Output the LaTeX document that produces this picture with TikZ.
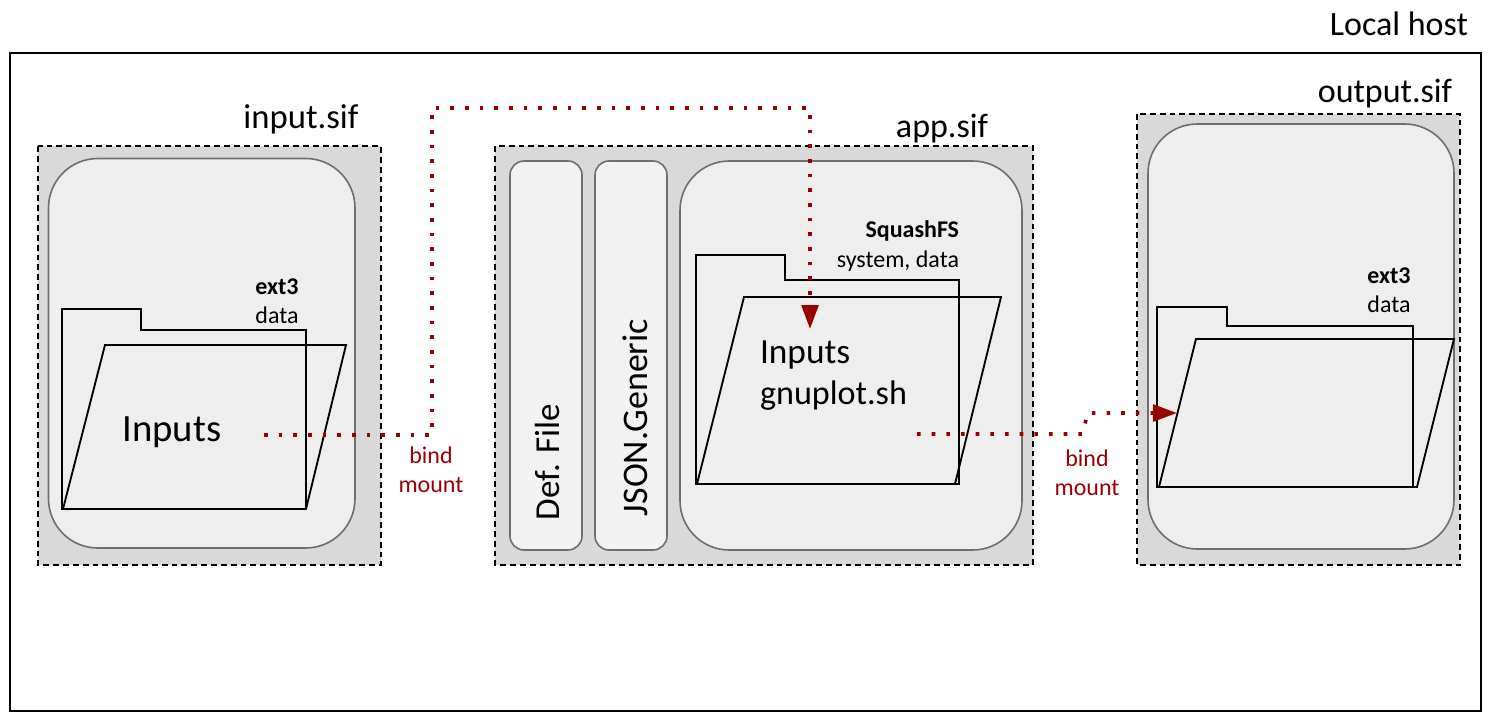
\documentclass[tikz,border=0pt]{standalone}
\usepackage{fontspec}
\setmainfont{Carlito}
\usetikzlibrary{arrows.meta}
\definecolor{bindred}{HTML}{990000}
\definecolor{sifgray}{HTML}{D9D9D9}
\definecolor{partfill}{HTML}{EEEEEE}
\definecolor{specfill}{HTML}{F2F2F2}
\definecolor{partline}{HTML}{6E6E6E}
\tikzset{
  x=0.75pt,y=-0.75pt,
  sifbox/.style={draw=black,fill=sifgray,line width=1.1pt,dash pattern=on 4.4pt off 3pt},
  partbox/.style={draw=partline,fill=partfill,line width=1.2pt},
  specbox/.style={draw=partline,fill=specfill,line width=1.2pt,rounded corners=10.5pt},
  folderline/.style={draw=black,line width=1.4pt,line join=miter},
  bindline/.style={draw=bindred,line width=2.7pt,dash pattern=on 2.7pt off 8.3pt,-{Triangle[length=18pt,width=12.5pt]}},
  txt/.style={inner sep=0pt,outer sep=0pt,text=black},
  small/.style={font=\fontsize{18}{22}\selectfont,align=center},
  bindtxt/.style={font=\fontsize{18}{22}\selectfont,align=center,text=bindred},
}
\begin{document}
\begin{tikzpicture}
\useasboundingbox (0,0) rectangle (1493,715);
\draw[black,line width=1.1pt] (10,53) rectangle (1481,711);
% containers
\draw[sifbox] (38,146) rectangle (381,565);
\draw[sifbox] (495,146) rectangle (1033,565);
\draw[sifbox] (1137,114) rectangle (1460,565);
% partitions
\draw[partbox,rounded corners=37pt] (48.5,158.5) rectangle (355,548);
\draw[specbox] (510,161) rectangle (582,550);
\draw[specbox] (595,161) rectangle (667,550);
\draw[partbox,rounded corners=37pt] (680,161) rectangle (1022,550);
\draw[partbox,rounded corners=37pt] (1148,124) rectangle (1454,549);
% folders
\draw[folderline] (62,309) -- (141,309) -- (141,330) -- (306,330) -- (306,509) -- (62,509) -- cycle;
\draw[folderline] (63,509) -- (105,345) -- (346,345) -- (306,509) -- cycle;
\draw[folderline] (696,255) -- (785,255) -- (785,280) -- (959,280) -- (959,484) -- (696,484) -- cycle;
\draw[folderline] (697,484) -- (744,297) -- (1001,297) -- (955,484) -- cycle;
\draw[folderline] (1157,307) -- (1227,307) -- (1227,326) -- (1413,326) -- (1413,487) -- (1157,487) -- cycle;
\draw[folderline] (1159,487) -- (1196,339) -- (1454,339) -- (1417,487) -- cycle;
% text
\node[txt,anchor=base east,font=\fontsize{25.5}{30}\selectfont] (host) at (1468,35) {Local host};
\node[txt,anchor=base,font=\fontsize{26}{30}\selectfont] (inputsif) at (301,128) {input.sif};
\node[txt,anchor=base,font=\fontsize{25.5}{30}\selectfont] (appsif) at (942,137.5) {app.sif};
\node[txt,anchor=base,font=\fontsize{25.5}{30}\selectfont] (outputsif) at (1385,102) {output.sif};
\node[txt,small] (extone) at (277,301) {\textbf{ext3}\\data};
\node[txt,small] (exttwo) at (1389,290) {\textbf{ext3}\\data};
\node[txt,small,align=right,anchor=east] (squash) at (959,246) {\textbf{SquashFS}\\system, data};
\node[txt,anchor=base,font=\fontsize{29}{33}\selectfont] (inputsone) at (172,441) {Inputs};
\node[txt,font=\fontsize{26.5}{30.7}\selectfont,align=left,anchor=west] (inputstwo) at (760,376) {Inputs\\{\fontsize{25.6}{30.7}\selectfont gnuplot.sh}};
\node[txt,rotate=90,anchor=base,font=\fontsize{26.3}{31}\selectfont] (deffile) at (559,462) {Def. File};
\node[txt,rotate=90,anchor=base,font=\fontsize{27}{31}\selectfont] (jsongen) at (647,417.5) {JSON.Generic};
\node[txt,bindtxt] (bindone) at (431,470) {bind\\mount};
\node[txt,bindtxt] (bindtwo) at (1087,473) {bind\\mount};
% bind mounts
\coordinate (a0) at (264,435);
\coordinate (a1) at (432,435);
\coordinate (a2) at (432,108);
\coordinate (a3) at (810,108);
\coordinate (a4) at (810,329);
\coordinate (b0) at (917,434);
\coordinate (b1) at (1082,434);
\coordinate (b2) at (1088,413);
\coordinate (b3) at (1177,413);
\draw[bindline] (a0) -- (a1) -- (a2) -- (a3) -- (a4);
\draw[bindline] (b0) -- (b1) -- (b2) -- (b3);
\end{tikzpicture}
\end{document}
